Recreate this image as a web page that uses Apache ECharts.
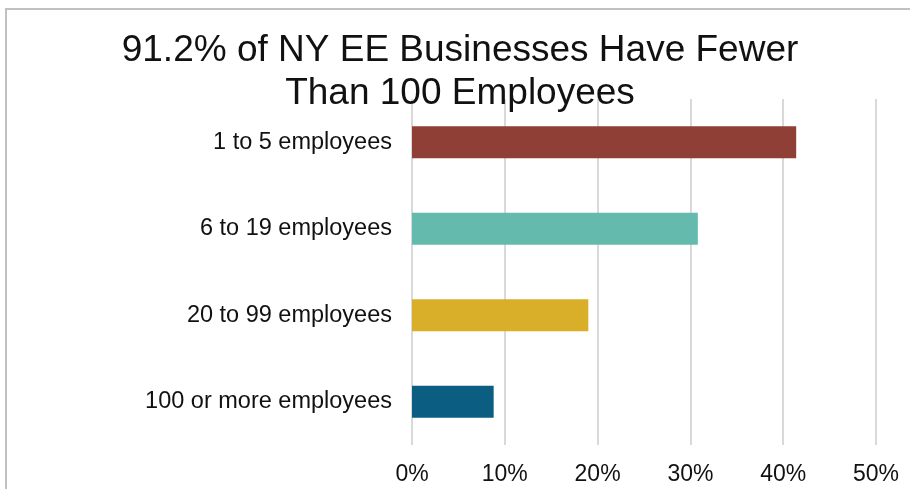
<!DOCTYPE html>
<html>
<head>
<meta charset="utf-8">
<script src="https://cdn.jsdelivr.net/npm/echarts@6/dist/echarts.min.js"></script>
<style>
html,body{margin:0;padding:0;background:#fff;}
#chart{width:910px;height:489px;}
</style>
</head>
<body>
<div id="chart"></div>
<script>
const titleText = '91.2% of NY EE Businesses Have Fewer\nThan 100 Employees';
const categories = ['1 to 5 employees', '6 to 19 employees', '20 to 99 employees', '100 or more employees'];
const values = [41.4, 30.8, 19.0, 8.8];
const barColors = ['#903F36', '#65BAAE', '#D9AE28', '#0B5D82'];
const xTicks = [0, 10, 20, 30, 40, 50];

const FONT = "'Liberation Sans', Arial, sans-serif";
const chart = echarts.init(document.getElementById('chart'), null, {renderer: 'canvas'});
chart.setOption({
  animation: false,
  backgroundColor: '#ffffff',
  graphic: [{
    type: 'rect',
    shape: {x: 6, y: 9, width: 1000, height: 1000},
    style: {fill: 'none', stroke: '#c0c0c0', lineWidth: 2},
    silent: true
  }],
  title: {
    text: titleText,
    left: 460,
    top: 29,
    padding: 0,
    textAlign: 'center',
    textStyle: {fontFamily: FONT, fontSize: 37, fontWeight: 'normal', color: '#111', lineHeight: 43}
  },
  grid: {left: 412, right: 34, top: 99, bottom: 44, containLabel: false},
  xAxis: {
    type: 'value',
    min: xTicks[0],
    max: xTicks[xTicks.length - 1],
    interval: 10,
    axisLine: {show: false},
    axisTick: {show: false},
    axisLabel: {formatter: '{value}%', fontFamily: FONT, fontSize: 23, color: '#111', margin: 18},
    splitLine: {show: true, lineStyle: {color: '#d9d9d9', width: 2}}
  },
  yAxis: {
    type: 'category',
    data: categories,
    inverse: true,
    axisLine: {show: false},
    axisTick: {show: false},
    axisLabel: {fontFamily: FONT, fontSize: 23.5, color: '#111', margin: 20}
  },
  series: [{
    type: 'bar',
    data: values.map((v, i) => ({value: v, itemStyle: {color: barColors[i]}})),
    barWidth: 32
  }]
});
</script>
</body>
</html>
